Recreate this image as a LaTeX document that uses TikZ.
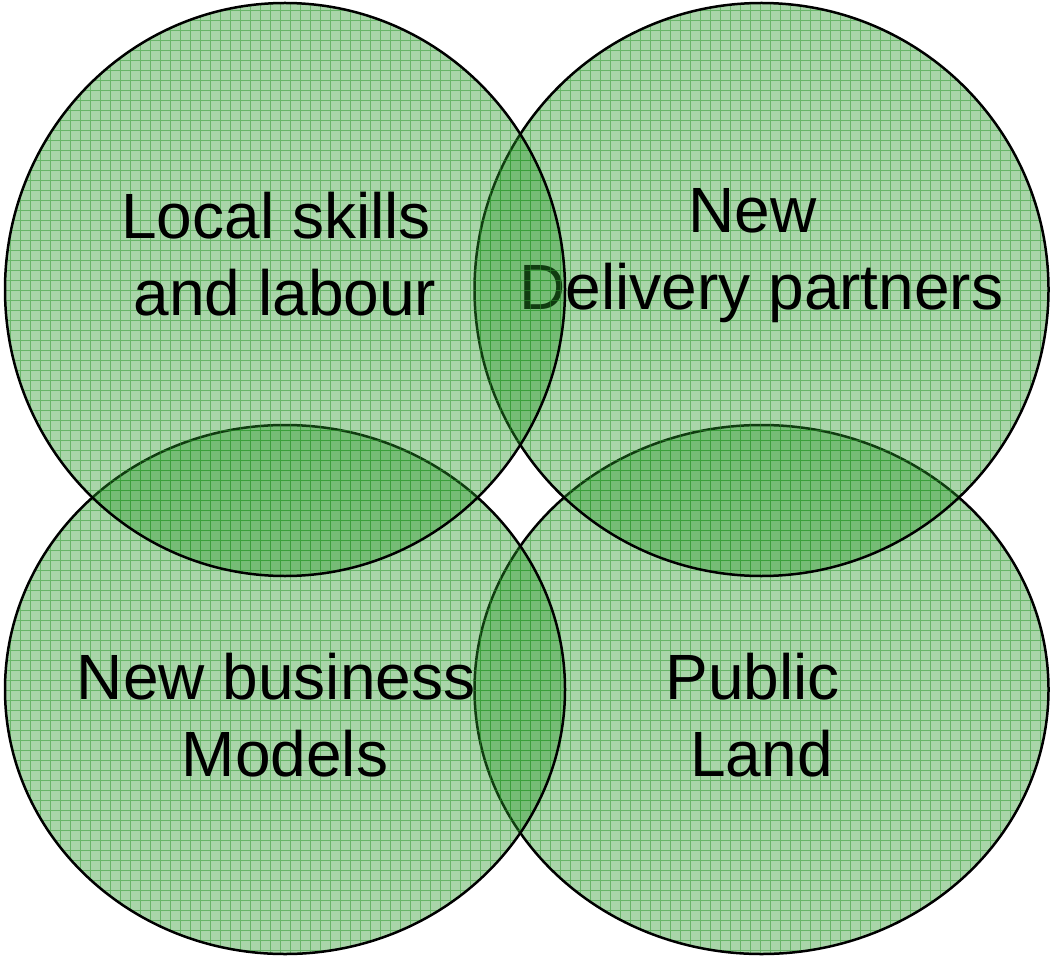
\documentclass[tikz,border=0pt]{standalone}
\usepackage{fontspec}
\setmainfont{Liberation Sans}
\definecolor{venngreen}{RGB}{40,150,40}
\newcommand{\tsp}{\kern.278em}

\begin{document}
\begin{tikzpicture}[x=1pt, y=-1pt,
        blob/.style={fill=venngreen, fill opacity=0.4,
            path picture={\draw[gridline] (path picture bounding box.south west) grid (path picture bounding box.north east);}},
        gridline/.style={venngreen, draw opacity=0.5, line width=0.9pt, step=10pt},
        rim/.style={line width=2.5pt, black},
        label/.style={anchor=north, inner sep=0pt, align=center, font=\fontsize{64}{77}\selectfont}]
    \useasboundingbox (0,0) rectangle (1051,957);

    % bottom row first, the top row lies over it
    \fill[blob] (761.5,689.5) ellipse (287 and 264.5);
    \draw[rim] (761.5,689.5) ellipse (287 and 264.5);
    \node[label] (land) at (761.5,653) {Public\tsp\\Land};

    \fill[blob] (285,689.5) ellipse (280 and 264.5);
    \draw[rim] (285,689.5) ellipse (280 and 264.5);
    \node[label] (models) at (285,653) {New business\tsp\\Models};

    \fill[blob] (761.5,289.5) ellipse (287 and 286.5);
    \draw[rim] (761.5,289.5) ellipse (287 and 286.5);
    \node[label] (partners) at (761.5,188) {New\tsp\\Delivery partners};

    \fill[blob] (285,289.5) ellipse (280 and 286.5);
    \draw[rim] (285,289.5) ellipse (280 and 286.5);
    \node[label] (skills) at (285,192) {Local skills\tsp\\and labour};
\end{tikzpicture}
\end{document}
